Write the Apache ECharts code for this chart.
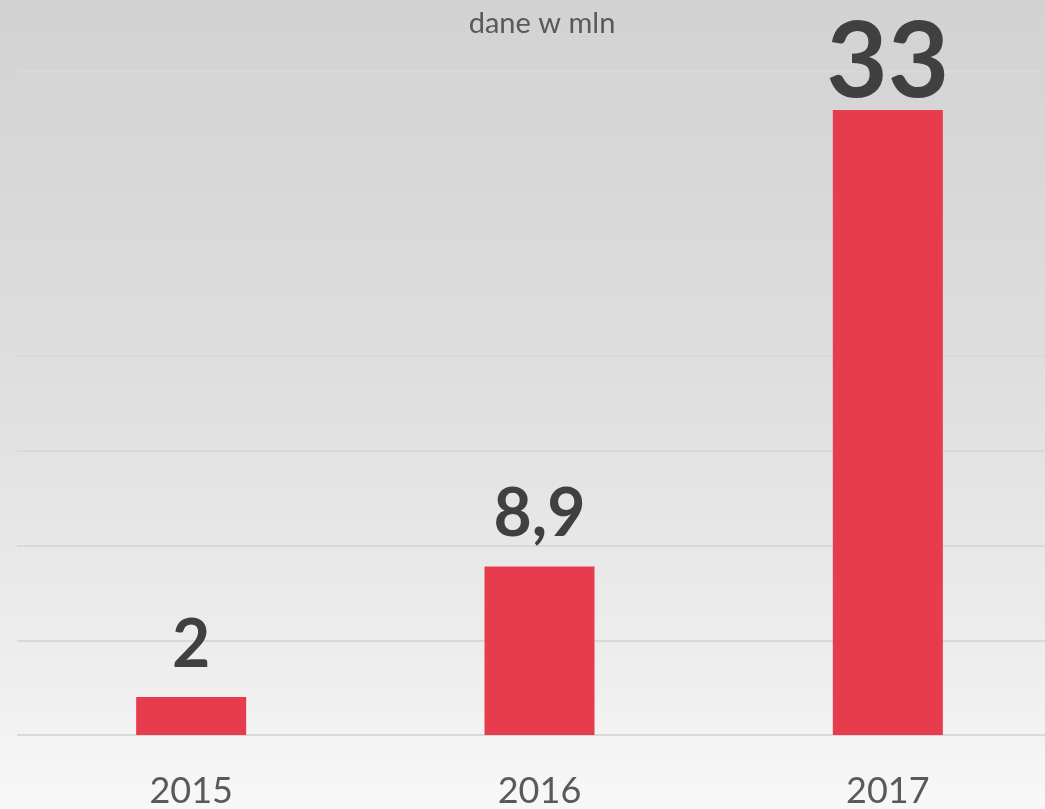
<!DOCTYPE html>
<html>
<head>
<meta charset="utf-8">
<script src="https://cdn.jsdelivr.net/npm/echarts@6/dist/echarts.min.js"></script>
<style>
html, body { margin: 0; padding: 0; overflow: hidden; }
/* wykres w oryginale jest przycięty z prawej strony, dlatego kontener jest szerszy od okna */
#chart { width: 1062px; height: 809px; }
</style>
</head>
<body>
<div id="chart"></div>
<script>
var years = ['2015', '2016', '2017'];
var values = [2, 8.9, 33];
var labelSizes = [66, 66, 106];
var labelGaps = [18, 19, -6];

var myChart = echarts.init(document.getElementById('chart'));

var seriesData = [];
for (var i = 0; i < values.length; i++) {
	seriesData.push({
		value: values[i],
		label: { fontSize: labelSizes[i], distance: labelGaps[i] }
	});
}

var option = {
	backgroundColor: {
		type: 'linear', x: 0, y: 0, x2: 0, y2: 1,
		colorStops: [
			{ offset: 0, color: '#d2d2d2' },
			{ offset: 0.45, color: '#dedede' },
			{ offset: 0.85, color: '#efefef' },
			{ offset: 1, color: '#f8f8f8' }
		]
	},
	textStyle: { fontFamily: 'Lato' },
	title: {
		text: 'dane w mln',
		left: 537,
		top: 4,
		textAlign: 'center',
		textStyle: { color: '#595959', fontSize: 29, fontWeight: 'normal', fontFamily: 'Lato' }
	},
	grid: { left: 17, right: 0, top: 72, bottom: 73 },
	xAxis: {
		type: 'category',
		data: years,
		axisLine: { show: false },
		axisTick: { show: false },
		axisLabel: { color: '#595959', fontSize: 36, margin: 38, fontFamily: 'Lato' }
	},
	yAxis: {
		type: 'value',
		min: 0,
		max: 35,
		interval: 5,
		axisLabel: { show: false },
		axisLine: { show: false },
		axisTick: { show: false },
		splitLine: { lineStyle: { color: '#d9d9d9', width: 2 } }
	},
	series: [{
		type: 'bar',
		data: seriesData,
		barWidth: 110,
		itemStyle: { color: '#e73c4e' },
		label: {
			show: true,
			position: 'top',
			color: '#404040',
			fontWeight: 'bold',
			fontFamily: 'Lato',
			formatter: function (p) { return String(p.value).replace('.', ','); }
		}
	}]
};
myChart.setOption(option);
</script>
</body>
</html>
